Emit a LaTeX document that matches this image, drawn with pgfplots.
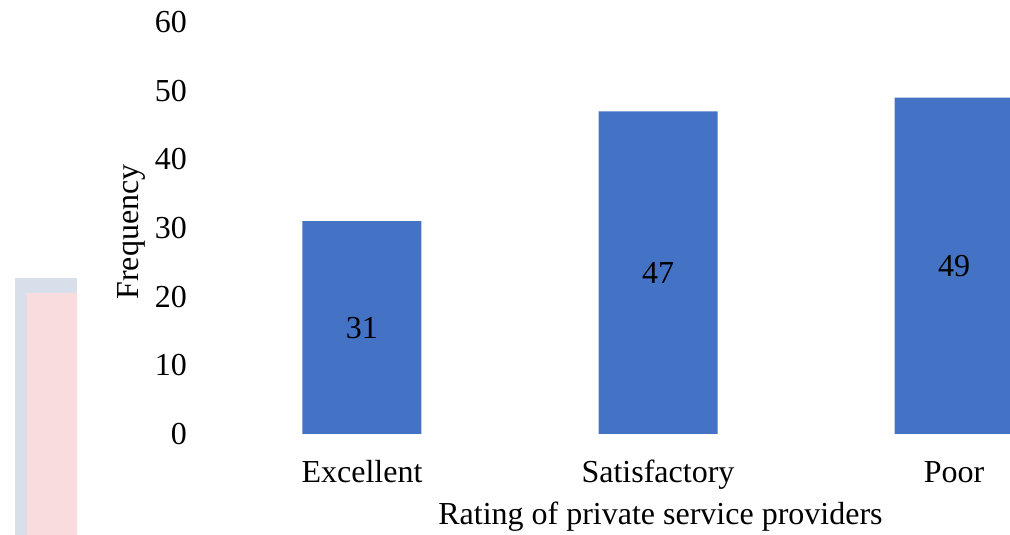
\documentclass[border=0pt]{standalone}
\usepackage{fontspec}
\setmainfont{Liberation Serif}
\usepackage{pgfplots}
\pgfplotsset{compat=1.18}
\definecolor{barblue}{HTML}{4472C4}
\definecolor{decogrey}{RGB}{216,222,234}
\definecolor{decopink}{RGB}{249,220,222}
\newcommand{\bigfont}{\fontsize{32bp}{38bp}\selectfont}
\begin{document}
\bigfont
\begin{tikzpicture}
\useasboundingbox (0bp,0bp) rectangle (1010bp,535bp);
\fill[decogrey] (15bp,0bp) rectangle (77bp,257bp);
\fill[decopink] (27bp,0bp) rectangle (77bp,242bp);
\begin{axis}[
  at={(192bp,101bp)}, anchor=south west,
  scale only axis, width=818bp, height=412bp,
  xmin=-0.5743, xmax=2.1892, ymin=0, ymax=60,
  xtick={0,1,2}, xticklabels={Excellent,Satisfactory,Poor},
  ytick={0,10,...,60},
  axis line style={draw=none}, tick style={draw=none}, major tick length=0pt,
  /pgf/number format/assume math mode=true,
  tick label style={font=\bigfont},
  label style={font=\bigfont},
  yticklabel style={anchor=east, inner sep=0pt, xshift=-5bp},
  xticklabel style={anchor=base, inner sep=0pt, yshift=-48bp},
  xlabel={Rating of private service providers},
  xlabel style={at={(axis description cs:0.5727,0)}, anchor=base, yshift=-90bp, inner sep=0pt},
  ylabel={Frequency},
  ylabel style={at={(axis description cs:-0.0648,0.4903)}, anchor=base, inner sep=0pt},
]
\addplot[ybar, bar width=119bp, fill=barblue, draw=none,
  visualization depends on=rawy \as \rawy,
  nodes near coords,
  nodes near coords style={anchor=center, font=\bigfont, text=black, yshift={-\rawy*3.43333bp}}]
  coordinates {(0,31) (1,47) (2,49)};
\end{axis}
\end{tikzpicture}
\end{document}
